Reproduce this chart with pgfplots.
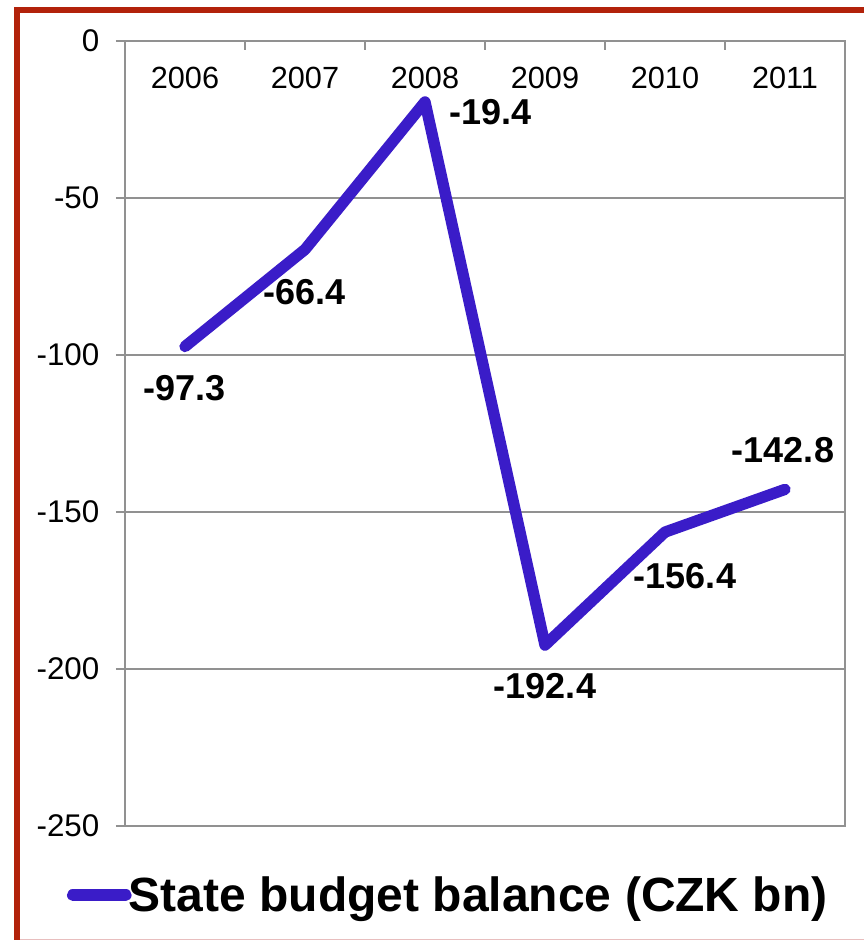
\documentclass[border=0pt]{standalone}
\usepackage{fontspec}
\setmainfont{Liberation Sans}
\usepackage{pgfplots}
\pgfplotsset{compat=1.18}
\definecolor{linecol}{RGB}{58,28,200}
\definecolor{bordercol}{RGB}{178,34,10}
\definecolor{gridcol}{RGB}{145,145,145}
\definecolor{pinkline}{RGB}{232,190,190}
\begin{document}
\begin{tikzpicture}
\path[use as bounding box] (-93.75pt,-85.5pt) rectangle (554.25pt,619.5pt);
\draw[pinkline, line width=0.9pt] (-81pt,-85pt) -- (554.25pt,-85pt);
\draw[bordercol, line width=4.5pt] (-81pt,-85.5pt) -- (-81pt,612pt) -- (554.25pt,612pt);
\begin{axis}[
  at={(0,0)}, anchor=south west,
  scale only axis, width=540pt, height=588.75pt,
  xmin=-0.5, xmax=5.5, ymin=-250, ymax=0,
  clip=false,
  axis line style={gridcol, line width=1.3pt},
  xtick={0,1,2,3,4,5},
  xticklabels={2006,2007,2008,2009,2010,2011},
  xtick pos=upper, xticklabel pos=upper,
  major x tick style={draw=none},
  minor xtick={0.5,1.5,2.5,3.5,4.5},
  minor x tick style={gridcol, line width=1.3pt},
  minor tick length=6.75pt,
  x tick label style={anchor=center, yshift=-27.75pt, font=\fontsize{23}{27}\selectfont},
  ytick={-250,-200,-150,-100,-50,0},
  ytick pos=left,
  ytick align=outside,
  major y tick style={gridcol, line width=1.3pt},
  major tick length=6.75pt,
  ymajorgrids,
  grid style={gridcol, line width=1.3pt},
  y tick label style={font=\fontsize{23.5}{28}\selectfont, xshift=-9pt},
  /pgf/number format/assume math mode=true,
  legend style={draw=none, fill=none, at={(-0.081,-0.088)}, anchor=west,
    inner sep=0pt, font=\fontsize{36}{43}\selectfont\bfseries,
    nodes={inner sep=0pt}},
  legend image code/.code={\draw[#1, line cap=round] (0pt,0pt) -- (40pt,0pt);},
]
\addplot[linecol, line width=8.5pt, line join=round, line cap=round]
  coordinates {(0,-97.3) (1,-66.4) (2,-19.4) (3,-192.4) (4,-156.4) (5,-142.8)};
\addlegendentry{\hspace{-2pt}State budget balance (CZK bn)}
\begin{scope}[every node/.style={font=\fontsize{27}{32}\selectfont\bfseries}]
\node at (axis cs:0,-97.3) [yshift=-31pt] {-97.3};
\node at (axis cs:1,-66.4) [yshift=-32pt] {-66.4};
\node at (axis cs:2,-19.4) [xshift=49.5pt, yshift=-8pt] {-19.4};
\node at (axis cs:3,-192.4) [yshift=-31pt] {-192.4};
\node at (axis cs:4,-156.4) [xshift=15pt, yshift=-33pt] {-156.4};
\node at (axis cs:5,-142.8) [xshift=-1.5pt, yshift=29.5pt] {-142.8};
\end{scope}
\end{axis}
\end{tikzpicture}
\end{document}
